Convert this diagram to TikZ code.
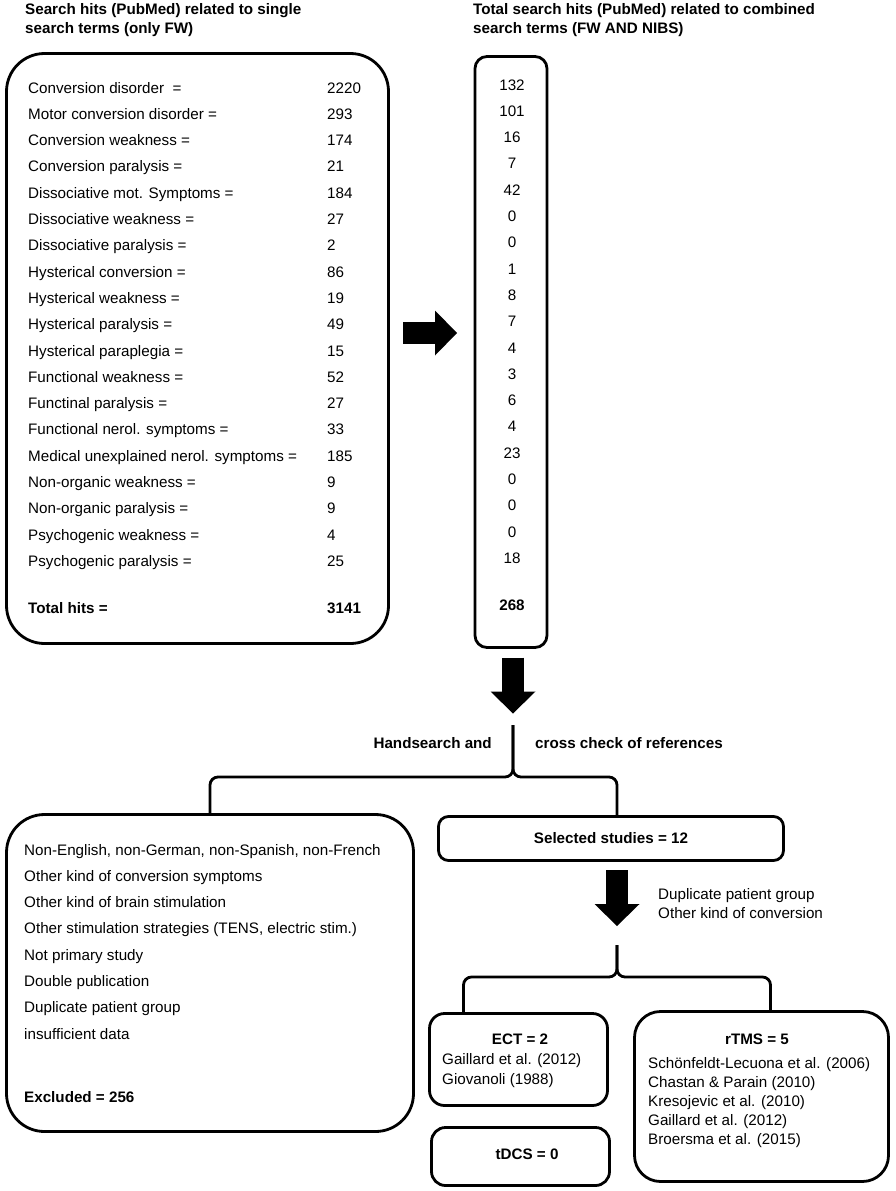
\documentclass[tikz,border=0pt]{standalone}
\usepackage{fontspec}
\setmainfont{Liberation Sans}
\usetikzlibrary{arrows.meta,calc}

\begin{document}
\begin{tikzpicture}[
  x=1pt,y=-1pt,
  every node/.style={font=\fontsize{15.2}{19}\selectfont,inner sep=0pt},
  bold/.style={font=\fontsize{15.2}{19}\selectfont\bfseries},
  box/.style={draw,line width=2.8pt,outer sep=0pt},
  heading/.style={anchor=north west,align=left,bold},
  entry/.style={anchor=base west},
  blockarrow/.style={line width=22pt,-{Triangle[length=22pt,width=45pt,line width=0pt]}},
  brace/.style={line width=2.8pt,rounded corners=8pt}
]
  \useasboundingbox (0,0) rectangle (895,1191);

  % headings
  \node[heading] (headA) at (25,3) {Search hits (PubMed) related to single\\search terms (only FW)};
  \node[heading] (headB) at (473,3) {Total search hits (PubMed) related to combined\\search terms (FW AND NIBS)};

  % search boxes
  \node[box,rounded corners=38pt,minimum width=382pt,minimum height=590pt] (hits) at (197.5,348.5) {};
  \node[box,rounded corners=12pt,minimum width=72pt,minimum height=591pt] (terms) at (511,352) {};

  \foreach \term/\num/\sub [count=\i from 0] in {
    Conversion disorder~ =/2220/132,
    Motor conversion disorder =/293/101,
    Conversion weakness =/174/16,
    Conversion paralysis =/21/7,
    Dissociative mot. Symptoms =/184/42,
    Dissociative weakness =/27/0,
    Dissociative paralysis =/2/0,
    Hysterical conversion =/86/1,
    Hysterical weakness =/19/8,
    Hysterical paralysis =/49/7,
    Hysterical paraplegia =/15/4,
    Functional weakness =/52/3,
    Functinal paralysis =/27/6,
    Functional nerol. symptoms =/33/4,
    Medical unexplained nerol. symptoms =/185/23,
    Non-organic weakness =/9/0,
    Non-organic paralysis =/9/0,
    Psychogenic weakness =/4/0,
    Psychogenic paralysis =/25/18} {
    \node[entry] (term\i) at (28,93+26.3*\i) {\term};
    \node[entry] (num\i) at (327,93+26.3*\i) {\num};
    \node[anchor=base] (sub\i) at (512,90+26.3*\i) {\sub};
  }
  \node[entry,bold] (total) at (28,613) {Total hits =};
  \node[entry,bold] (totalnum) at (327,613) {3141};
  \node[anchor=base,bold] (subtotal) at (512,610) {268};

  \draw[blockarrow] ($(hits.east)+(14.5,-15.5)$) -- ($(terms.west)+(-18,-19)$);
  \draw[blockarrow] ($(terms.south)+(2,10)$) -- ($(terms.south)+(2,66)$);

  % handsearch
  \coordinate (hsplit) at (513,725);
  \node[anchor=base east,bold] (hand) at (492,748) {Handsearch and};
  \node[anchor=base west,bold] (cross) at (535,748) {cross check of references};

  \node[box,rounded corners=38pt,minimum width=407pt,minimum height=317pt] (excl) at (210,973) {};
  \foreach \why [count=\i from 0] in {
    {Non-English, non-German, non-Spanish, non-French},
    Other kind of conversion symptoms,
    Other kind of brain stimulation,
    {Other stimulation strategies (TENS, electric stim.)},
    Not primary study,
    Double publication,
    Duplicate patient group,
    insufficient data} {
    \node[entry] (why\i) at (24,855+26.3*\i) {\why};
  }
  \node[entry,bold] (excluded) at (24,1102) {Excluded = 256};

  \node[box,bold,rounded corners=10pt,minimum width=345pt,minimum height=44pt] (sel) at (611,838.5) {Selected studies = 12};

  \draw[brace] (hsplit) -- ++(0,52) -| (excl.north);
  \draw[brace] (hsplit) -- ++(0,52) -| ([xshift=6pt]sel.north);

  % selected studies
  \draw[blockarrow] ($(sel.south)+(6,9.5)$) -- ($(sel.south)+(6,65.5)$);
  \node[anchor=north west,align=left] (dup) at (658,888.5) {Duplicate patient group\\Other kind of conversion};
  \coordinate (dsplit) at (617,945);

  \node[box,rounded corners=15pt,minimum width=178pt,minimum height=92pt] (ect) at (518.5,1059.5) {};
  \node[box,rounded corners=14pt,minimum width=178pt,minimum height=58pt] (tdcs) at (520.5,1156.5) {};
  \node[box,rounded corners=26pt,minimum width=254pt,minimum height=170pt] (rtms) at (761.5,1096.5) {};

  \draw[brace] (dsplit) -- ++(0,32) -| ([xshift=34pt]ect.north west);
  \draw[brace] (dsplit) -- ++(0,32) -| ([xshift=9pt]rtms.north);

  \node[anchor=base,bold] (ecttitle) at (520,1044) {ECT = 2};
  \node[entry] (ect1) at (442,1064) {Gaillard et al. (2012)};
  \node[entry] (ect2) at (442,1084) {Giovanoli (1988)};

  \node[anchor=base,bold] (tdcstitle) at (527,1159) {tDCS = 0};

  \node[anchor=base,bold] (rtmstitle) at (757,1044) {rTMS = 5};
  \foreach \study [count=\i from 0] in {
    Schönfeldt-Lecuona et al. (2006),
    Chastan \& Parain (2010),
    Kresojevic et al. (2010),
    Gaillard et al. (2012),
    Broersma et al. (2015)} {
    \node[entry] (rtms\i) at (648,1068+19*\i) {\study};
  }
\end{tikzpicture}
\end{document}
